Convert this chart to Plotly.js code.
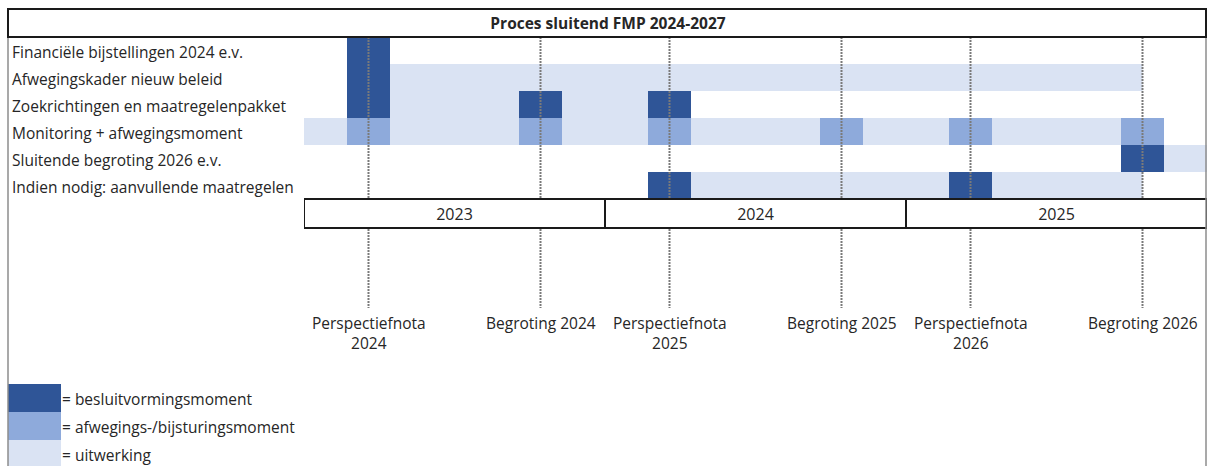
<!DOCTYPE html>
<html>
<head>
<meta charset="utf-8">
<script src="https://cdn.plot.ly/plotly-3.0.1.min.js"></script>
<style>
  html, body { margin: 0; padding: 0; background: #fff; }
  #chart { width: 1208px; height: 466px; }
</style>
</head>
<body>
<div id="chart"></div>
<script>
// rows of the planning, top to bottom
const rows = [
  'Financiële bijstellingen 2024 e.v.',
  'Afwegingskader nieuw beleid',
  'Zoekrichtingen en maatregelenpakket',
  'Monitoring + afwegingsmoment',
  'Sluitende begroting 2026 e.v.',
  'Indien nodig: aanvullende maatregelen'
]

// uitwerking: row index, start column, end column
const lightRow = [1, 2, 3, 4, 5]
const lightStart = [2, 2, 0, 20, 9]
const lightEnd = [19.5, 8, 20, 21, 19.5]

// afwegings-/bijsturingsmoment: row index, column
const midRow = [3, 3, 3, 3, 3, 3]
const midCol = [1, 5, 8, 12, 15, 19]

// besluitvormingsmoment: row index, column
const darkRow = [0, 1, 2, 2, 2, 4, 5, 5]
const darkCol = [1, 1, 1, 5, 8, 19, 8, 15]

const years = ['2023', '2024', '2025']
const yearStart = [0, 7, 14]
const yearLength = [7, 7, 7]

const milestoneCol = [1, 5, 8, 12, 15, 19]
const milestoneLabels = [
  'Perspectiefnota<br>2024',
  'Begroting 2024',
  'Perspectiefnota<br>2025',
  'Begroting 2025',
  'Perspectiefnota<br>2026',
  'Begroting 2026'
]

const levelNames = ['besluitvormingsmoment', 'afwegings-/bijsturingsmoment', 'uitwerking']
const levelColors = ['#2f5597', '#8eaadb', '#dae3f3']

const W = 1208, H = 466
const M = {l: 304, r: 1, t: 37, b: 0}
const ROW_PX = 27
const pxX = (x) => (x - M.l) / (W - M.l - M.r)
const pxY = (y) => 1 - (y - M.t) / (H - M.t - M.b)
const rowY = (y) => (y - M.t) / ROW_PX - 0.5 // pixel -> row units

const font = '"Open Sans", Lato, sans-serif'
const textColor = '#262626'
const textSize = 15.5

function segments (rowIdx, start, end, color, name) {
  return {
    type: 'bar',
    orientation: 'h',
    name,
    y: rowIdx,
    base: start,
    x: start.map((s, i) => end[i] - s),
    width: 1,
    marker: {color, line: {width: 0}},
    hoverinfo: 'skip'
  }
}

const traces = [
  segments(lightRow, lightStart, lightEnd, levelColors[2], levelNames[2]),
  segments(midRow, midCol, midCol.map((c) => c + 1), levelColors[1], levelNames[1]),
  segments(darkRow, darkCol, darkCol.map((c) => c + 1), levelColors[0], levelNames[0]),
  {
    type: 'bar',
    orientation: 'h',
    y: years.map(() => rowY(213.5)),
    base: yearStart,
    x: yearLength,
    width: 29 / ROW_PX,
    text: years,
    textposition: 'inside',
    insidetextanchor: 'middle',
    textfont: {family: font, size: 16, color: textColor},
    marker: {color: '#ffffff', line: {color: '#1a1a1a', width: 2}},
    hoverinfo: 'skip'
  },
  {
    type: 'scatter',
    mode: 'lines',
    x: milestoneCol.flatMap((c) => [c + 0.5, c + 0.5, null, c + 0.5, c + 0.5, null]),
    y: milestoneCol.flatMap(() => [-0.5, 5.5, null, rowY(229), rowY(308), null]),
    line: {color: '#7a7a7a', width: 2, dash: '2px,1px'},
    hoverinfo: 'skip'
  }
]

const annotations = []
rows.forEach((r, i) => {
  annotations.push({
    xref: 'paper', yref: 'y', x: pxX(10), y: i + 0.05,
    xanchor: 'left', yanchor: 'middle', showarrow: false,
    text: r, font: {family: font, size: textSize, color: textColor}
  })
})
milestoneCol.forEach((c, i) => {
  annotations.push({
    xref: 'x', yref: 'y', x: c + 0.5, y: rowY(310),
    xanchor: 'center', yanchor: 'top', showarrow: false,
    text: milestoneLabels[i], font: {family: font, size: textSize, color: textColor}
  })
})

const shapes = [
  // outer border
  {type: 'line', xref: 'paper', yref: 'paper', x0: pxX(8), x1: pxX(8), y0: pxY(9), y1: pxY(466), line: {color: '#8c8c8c', width: 1.5}},
  {type: 'line', xref: 'paper', yref: 'paper', x0: pxX(1206), x1: pxX(1206), y0: pxY(9), y1: pxY(466), line: {color: '#8c8c8c', width: 1.5}},
  // title box
  {type: 'rect', xref: 'paper', yref: 'paper', x0: pxX(8), x1: pxX(1206), y0: pxY(9), y1: pxY(37), line: {color: '#1a1a1a', width: 2}}
]

// legend swatches
levelNames.forEach((name, i) => {
  const top = 384 + i * 28
  shapes.push({
    type: 'rect', xref: 'paper', yref: 'paper',
    x0: pxX(8), x1: pxX(61), y0: pxY(top), y1: pxY(top + 28),
    fillcolor: levelColors[i], line: {width: 0}, layer: 'below'
  })
  annotations.push({
    xref: 'paper', yref: 'paper', x: pxX(60), y: pxY(top + 14.5),
    xanchor: 'left', yanchor: 'middle', showarrow: false,
    text: '= ' + name, font: {family: font, size: textSize, color: textColor}
  })
})

const layout = {
  width: W,
  height: H,
  margin: M,
  paper_bgcolor: '#ffffff',
  plot_bgcolor: '#ffffff',
  barmode: 'overlay',
  showlegend: false,
  title: {
    text: 'Proces sluitend FMP 2024-2027',
    xref: 'container', yref: 'container',
    x: 608 / W, y: 1 - 23.5 / H,
    xanchor: 'center', yanchor: 'middle',
    font: {family: font, size: 15.5, weight: 700, color: textColor}
  },
  xaxis: {range: [0, 21], visible: false, fixedrange: true},
  yaxis: {range: [rowY(H), -0.5], visible: false, fixedrange: true},
  shapes,
  annotations
}

Plotly.newPlot('chart', traces, layout, {displayModeBar: false, staticPlot: true})
</script>
</body>
</html>
